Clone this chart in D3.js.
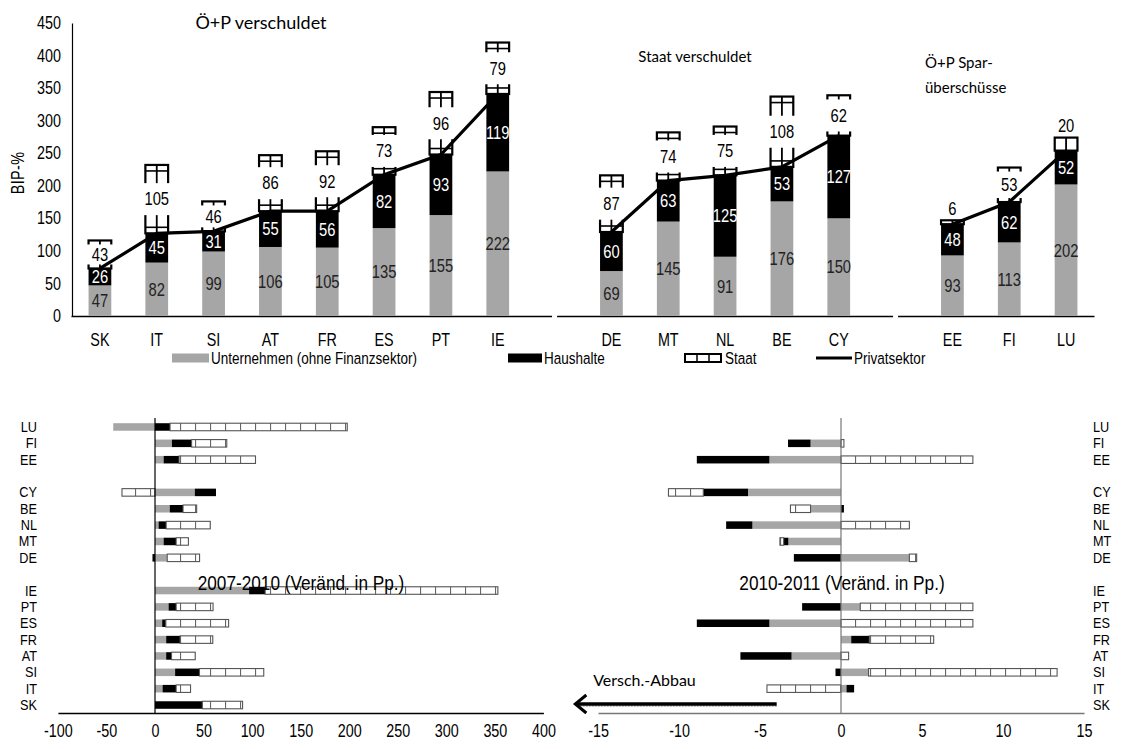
<!DOCTYPE html>
<html>
<head>
<meta charset="utf-8">
<script src="https://cdn.jsdelivr.net/npm/d3@7"></script>
<style>
  body { margin: 0; background: #fff; }
  svg text { font-family: "Liberation Sans", Arial, sans-serif; fill: #000; }
  svg text.ttl { font-family: Lato, "Open Sans", sans-serif; }
</style>
</head>
<body>
<svg id="chart" width="1123" height="749"></svg>
<script>
// ---- top chart data (BIP-%) ----
var topSlots = ["SK", "IT", "SI", "AT", "FR", "ES", "PT", "IE", "g1", "DE", "MT", "NL", "BE", "CY", "g2", "EE", "FI", "LU"];
var topCats = ["SK", "IT", "SI", "AT", "FR", "ES", "PT", "IE", "DE", "MT", "NL", "BE", "CY", "EE", "FI", "LU"];
var panelGroups = [["SK", "IT", "SI", "AT", "FR", "ES", "PT", "IE"], ["DE", "MT", "NL", "BE", "CY"], ["EE", "FI", "LU"]];
var unternehmen = [47, 82, 99, 106, 105, 135, 155, 222, 69, 145, 91, 176, 150, 93, 113, 202];
var haushalte = [26, 45, 31, 55, 56, 82, 93, 119, 60, 63, 125, 53, 127, 48, 62, 52];
var staat = [43, 105, 46, 86, 92, 73, 96, 79, 87, 74, 75, 108, 62, 6, 53, 20];
var yTicks = [0, 50, 100, 150, 200, 250, 300, 350, 400, 450];

// ---- bottom charts data (Veränderung in Pp.) ----
var rowSlots = ["LU", "FI", "EE", "g1", "CY", "BE", "NL", "MT", "DE", "g2", "IE", "PT", "ES", "FR", "AT", "SI", "IT", "SK"];
var rowCats = ["LU", "FI", "EE", "CY", "BE", "NL", "MT", "DE", "IE", "PT", "ES", "FR", "AT", "SI", "IT", "SK"];
var unt0710 = [-43, 17.4, 8.9, 41, 15.2, 3.7, 8.9, 12.6, 96.9, 14, 7.4, 11.5, 11.5, 20.7, 7.8, 0];
var hh0710 = [15.5, 20.3, 15.9, 21.8, 13.7, 7.8, 12.9, -2.6, 16.6, 7.8, 3.7, 14.4, 5.5, 25.1, 14, 48.8];
var st0710 = [182.5, 36.2, 78.7, -34, 14, 45.4, 12.6, 33.3, 239.6, 38, 64.7, 33.6, 24.4, 66.2, 14.8, 41.4];
var unt1011 = [0, -1.88, -4.42, -5.74, -1.88, -5.47, -3.25, 4.22, 0, 1.19, -4.42, 0.63, -3.05, 1.7, 0.34, 0];
var hh1011 = [0, -1.39, -4.48, -2.76, 0.18, -1.62, -0.29, -2.91, 0, -2.4, -4.48, 1.12, -3.16, -0.34, 0.47, 0];
var st1011 = [0, 0.18, 8.14, -2.15, -1.24, 4.22, -0.23, 0.45, 0, 6.95, 8.14, 3.97, 0.47, 11.64, -4.57, 0];
var ticks0710 = [-100, -50, 0, 50, 100, 150, 200, 250, 300, 350, 400];
var ticks1011 = [-15, -10, -5, 0, 5, 10, 15];

var GRAY = "#a6a6a6";
var svg = d3.select("#chart");

var defs = svg.append("defs");
var pat = defs.append("pattern").attr("id", "stH").attr("patternUnits", "userSpaceOnUse")
  .attr("width", 15).attr("height", 10);
pat.append("rect").attr("width", 15).attr("height", 10).attr("fill", "#fff");
pat.append("line").attr("x1", 0.5).attr("x2", 0.5).attr("y1", 0).attr("y2", 10)
  .attr("stroke", "#666").attr("stroke-width", 1.2);

// ================= TOP CHART =================
var x = d3.scaleBand().domain(topSlots).range([71.5, 1094.5]).paddingInner(0.6).paddingOuter(0.3);
var y = d3.scaleLinear().domain([0, 450]).range([316, 23]);
var bw = x.bandwidth();

var topData = topCats.map(function (c, i) {
  return { cat: c, U: unternehmen[i], H: haushalte[i], S: staat[i] };
});
var stack = d3.stack().keys(["U", "H", "S"])(topData);

var gTop = svg.append("g");

// y axis
gTop.append("g")
  .attr("transform", "translate(72,0)")
  .call(d3.axisLeft(y).tickValues(yTicks).tickSize(0).tickSizeOuter(0).tickPadding(11))
  .call(function (g) {
    g.select(".domain").attr("stroke", "#000").attr("stroke-width", 1.2);
    g.selectAll("text").style("font-size", "17.5px");
  });

// x axis labels
var xAx = gTop.append("g")
  .attr("transform", "translate(0,316)")
  .call(d3.axisBottom(x).tickSize(0).tickPadding(18).tickFormat(function (d) { return d.charAt(0) === "g" ? "" : d; }));
xAx.select(".domain").remove();
xAx.selectAll("text").style("font-size", "17.5px");

// panel baselines
var g1c = x("g1") + bw / 2, g2c = x("g2") + bw / 2;
[[71.5, g1c - 2.5], [g1c + 2.5, g2c - 2.5], [g2c + 2.5, 1094.5]].forEach(function (p) {
  gTop.append("line").attr("x1", p[0]).attr("x2", p[1]).attr("y1", 316.5).attr("y2", 316.5)
    .attr("stroke", "#000").attr("stroke-width", 1.3);
});

// U and H segments
gTop.selectAll(".segU").data(stack[0]).enter().append("rect")
  .attr("x", function (d) { return x(d.data.cat); })
  .attr("y", function (d) { return y(d[1]); })
  .attr("width", bw)
  .attr("height", function (d) { return y(d[0]) - y(d[1]); })
  .attr("fill", GRAY);
gTop.selectAll(".segH").data(stack[1]).enter().append("rect")
  .attr("x", function (d) { return x(d.data.cat); })
  .attr("y", function (d) { return y(d[1]); })
  .attr("width", bw)
  .attr("height", function (d) { return y(d[0]) - y(d[1]); })
  .attr("fill", "#000");

// Staat segments (white box with cross lines)
var sg = gTop.selectAll(".segS").data(stack[2]).enter().append("g");
sg.append("rect")
  .attr("x", function (d) { return x(d.data.cat); })
  .attr("y", function (d) { return y(d[1]); })
  .attr("width", bw)
  .attr("height", function (d) { return y(d[0]) - y(d[1]); })
  .attr("fill", "#fff").attr("stroke", "#000").attr("stroke-width", 2.2);
sg.append("line")
  .attr("x1", function (d) { return x(d.data.cat) + bw / 2; })
  .attr("x2", function (d) { return x(d.data.cat) + bw / 2; })
  .attr("y1", function (d) { return y(d[1]); })
  .attr("y2", function (d) { return y(d[0]); })
  .attr("stroke", "#000").attr("stroke-width", 1.8);
sg.filter(function (d) { return y(d[0]) - y(d[1]) > 14; }).each(function (d) {
  var g = d3.select(this);
  [y(d[1]) + 6, y(d[0]) - 6].forEach(function (yy) {
    g.append("line").attr("x1", x(d.data.cat)).attr("x2", x(d.data.cat) + bw)
      .attr("y1", yy).attr("y2", yy).attr("stroke", "#000").attr("stroke-width", 1.6);
  });
});

// label boxes on Staat
sg.filter(function (d) { return d.data.S >= 25; }).append("rect")
  .attr("x", function (d) { return x(d.data.cat) - 2; })
  .attr("y", function (d) {
    var h = Math.min(32, y(d[0]) - y(d[1]) - 8);
    return (y(d[0]) + y(d[1])) / 2 - h / 2;
  })
  .attr("width", bw + 4)
  .attr("height", function (d) { return Math.min(32, y(d[0]) - y(d[1]) - 8); })
  .attr("fill", "#fff");

// Privatsektor line (per panel)
var line = d3.line()
  .x(function (d) { return x(d.cat) + bw / 2; })
  .y(function (d) { return y(d.U + d.H); });
panelGroups.forEach(function (grp) {
  gTop.append("path")
    .datum(topData.filter(function (d) { return grp.indexOf(d.cat) >= 0; }))
    .attr("d", line)
    .attr("fill", "none").attr("stroke", "#000").attr("stroke-width", 3.2);
});

// value labels
gTop.selectAll(".lblU").data(stack[0]).enter().append("text")
  .attr("x", function (d) { return x(d.data.cat) + bw / 2; })
  .attr("y", function (d) { return (y(d[0]) + y(d[1])) / 2; })
  .attr("dy", "0.35em").attr("text-anchor", "middle")
  .style("font-size", "18px").style("fill", "#222")
  .text(function (d) { return d.data.U; });
gTop.selectAll(".lblH").data(stack[1]).enter().append("text")
  .attr("x", function (d) { return x(d.data.cat) + bw / 2; })
  .attr("y", function (d) { return (y(d[0]) + y(d[1])) / 2; })
  .attr("dy", "0.35em").attr("text-anchor", "middle")
  .style("font-size", "18px").style("fill", "#fff")
  .text(function (d) { return d.data.H; });
gTop.selectAll(".lblS").data(stack[2]).enter().append("text")
  .attr("x", function (d) { return x(d.data.cat) + bw / 2; })
  .attr("y", function (d) { return d.data.S >= 25 ? (y(d[0]) + y(d[1])) / 2 : y(d[1]) - 12; })
  .attr("dy", "0.35em").attr("text-anchor", "middle")
  .style("font-size", "18px")
  .text(function (d) { return d.data.S; });

// y title
gTop.append("text").attr("transform", "translate(18,173) rotate(-90)")
  .attr("text-anchor", "middle").attr("dy", "0.35em").style("font-size", "17.5px")
  .style("letter-spacing", "0.5px").text("BIP-%");

// panel titles
gTop.append("text").attr("class", "ttl").attr("x", 261).attr("y", 29).attr("text-anchor", "middle")
  .style("font-size", "18px").text("Ö+P verschuldet");
gTop.append("text").attr("class", "ttl").attr("x", 695).attr("y", 62).attr("text-anchor", "middle")
  .style("font-size", "15px").text("Staat verschuldet");
gTop.append("text").attr("class", "ttl").attr("x", 925).attr("y", 68)
  .style("font-size", "15px").text("Ö+P Spar-");
gTop.append("text").attr("class", "ttl").attr("x", 925).attr("y", 93)
  .style("font-size", "15px").text("überschüsse");

// legend
var lg = svg.append("g").attr("transform", "translate(0,358)");
lg.append("rect").attr("x", 172).attr("y", -4.5).attr("width", 37).attr("height", 9).attr("fill", GRAY);
lg.append("text").attr("x", 211).attr("y", 0).attr("dy", "0.35em").style("font-size", "16.5px").text("Unternehmen (ohne Finanzsektor)");
lg.append("rect").attr("x", 508).attr("y", -4.5).attr("width", 34).attr("height", 9).attr("fill", "#000");
lg.append("text").attr("x", 544).attr("y", 0).attr("dy", "0.35em").style("font-size", "16.5px").text("Haushalte");
lg.append("rect").attr("x", 685).attr("y", -4).attr("width", 36).attr("height", 8).attr("fill", "#fff")
  .attr("stroke", "#000").attr("stroke-width", 2);
[697, 709].forEach(function (lx) {
  lg.append("line").attr("x1", lx).attr("x2", lx).attr("y1", -4).attr("y2", 4).attr("stroke", "#000").attr("stroke-width", 1.5);
});
lg.append("text").attr("x", 725).attr("y", 0).attr("dy", "0.35em").style("font-size", "16.5px").text("Staat");
lg.append("line").attr("x1", 816).attr("x2", 852).attr("y1", 0).attr("y2", 0).attr("stroke", "#000").attr("stroke-width", 3.2);
lg.append("text").attr("x", 854).attr("y", 0).attr("dy", "0.35em").style("font-size", "16.5px").text("Privatsektor");

// ================= BOTTOM CHARTS =================
var yb = d3.scaleBand().domain(rowSlots).range([418.8, 713.2]).paddingInner(0.54).paddingOuter(0.27);
var bh = yb.bandwidth();
function rows(u, h, s) {
  return rowCats.map(function (c, i) { return { cat: c, U: u[i], H: h[i], S: s[i] }; });
}
var stackDiv = d3.stack().keys(["U", "H", "S"]).offset(d3.stackOffsetDiverging);

function drawPanel(data, xs, ticks, axisColor, labelX, labelSide, title) {
  var g = svg.append("g");
  var st = stackDiv(data);
  var fills = [GRAY, "#000", "url(#stH)"];
  st.forEach(function (layer, k) {
    g.selectAll(".s" + k).data(layer.filter(function (d) { return d[1] !== d[0]; })).enter().append("rect")
      .attr("x", function (d) { return xs(Math.min(d[0], d[1])); })
      .attr("y", function (d) { return yb(d.data.cat); })
      .attr("width", function (d) { return Math.abs(xs(d[1]) - xs(d[0])); })
      .attr("height", bh)
      .attr("fill", fills[k])
      .attr("stroke", k === 2 ? "#555" : "none")
      .attr("stroke-width", 1.1);
  });
  // zero line
  g.append("line").attr("x1", xs(0)).attr("x2", xs(0)).attr("y1", 418).attr("y2", 713)
    .attr("stroke", axisColor).attr("stroke-width", 1.2);
  // x axis
  var ax = g.append("g").attr("transform", "translate(0,713)")
    .call(d3.axisBottom(xs).tickValues(ticks).tickSize(0).tickPadding(12)
      .tickFormat(function (d) { return String(d); }));
  ax.select(".domain").attr("stroke", axisColor).attr("stroke-width", 1.4);
  ax.selectAll("text").style("font-size", "17.5px");
  // category labels
  var cax = g.append("g").attr("transform", "translate(" + labelX + ",0)")
    .call((labelSide === "left" ? d3.axisLeft(yb) : d3.axisRight(yb)).tickSize(0).tickPadding(2)
      .tickFormat(function (d) { return d.charAt(0) === "g" ? "" : d; }));
  cax.select(".domain").remove();
  cax.selectAll("text").style("font-size", "15.5px");
  // period label
  g.append("text").attr("x", title.x).attr("y", 583).attr("dy", "0.35em").attr("text-anchor", "middle")
    .style("font-size", "21px").text(title.t);
  return g;
}

var xL = d3.scaleLinear().domain([-100, 400]).range([57.9, 543.4]);
var xR = d3.scaleLinear().domain([-15, 15]).range([598, 1084]);

drawPanel(rows(unt0710, hh0710, st0710), xL, ticks0710, "#000", 39, "left",
  { x: 301, t: "2007-2010 (Veränd. in Pp.)" });
var gR = drawPanel(rows(unt1011, hh1011, st1011), xR, ticks1011, "#777", 1091, "right",
  { x: 842, t: "2010-2011 (Veränd. in Pp.)" });

// Versch.-Abbau arrow
var ay = yb("SK") + bh / 2 - 1;
gR.append("line").attr("x1", xR(-3.97)).attr("x2", xR(-16.3)).attr("y1", ay + 2).attr("y2", ay + 2)
  .attr("stroke", "#bbb").attr("stroke-width", 2).attr("stroke-dasharray", "2,1");
gR.append("line").attr("x1", xR(-3.97)).attr("x2", xR(-16.4)).attr("y1", ay).attr("y2", ay)
  .attr("stroke", "#000").attr("stroke-width", 3.5);
gR.append("path")
  .attr("d", "M" + (xR(-16.4) + 11) + "," + (ay - 9) + "L" + xR(-16.4) + "," + ay + "L" + (xR(-16.4) + 11) + "," + (ay + 9))
  .attr("fill", "none").attr("stroke", "#000").attr("stroke-width", 3);
gR.append("text").attr("class", "ttl").attr("x", xR(-15.3)).attr("y", ay - 24).attr("dy", "0.35em")
  .style("font-size", "16px").text("Versch.-Abbau");

// squeeze the Arial-like texts horizontally (the original uses a narrow face)
svg.selectAll("text:not(.ttl)").each(function () {
  var t = d3.select(this);
  var tx = +t.attr("x") || 0, ty = +t.attr("y") || 0;
  var pre = t.attr("transform") || "";
  t.attr("x", null).attr("y", null)
    .attr("transform", pre + " translate(" + tx + "," + ty + ") scale(0.82,1)");
});
</script>
</body>
</html>
